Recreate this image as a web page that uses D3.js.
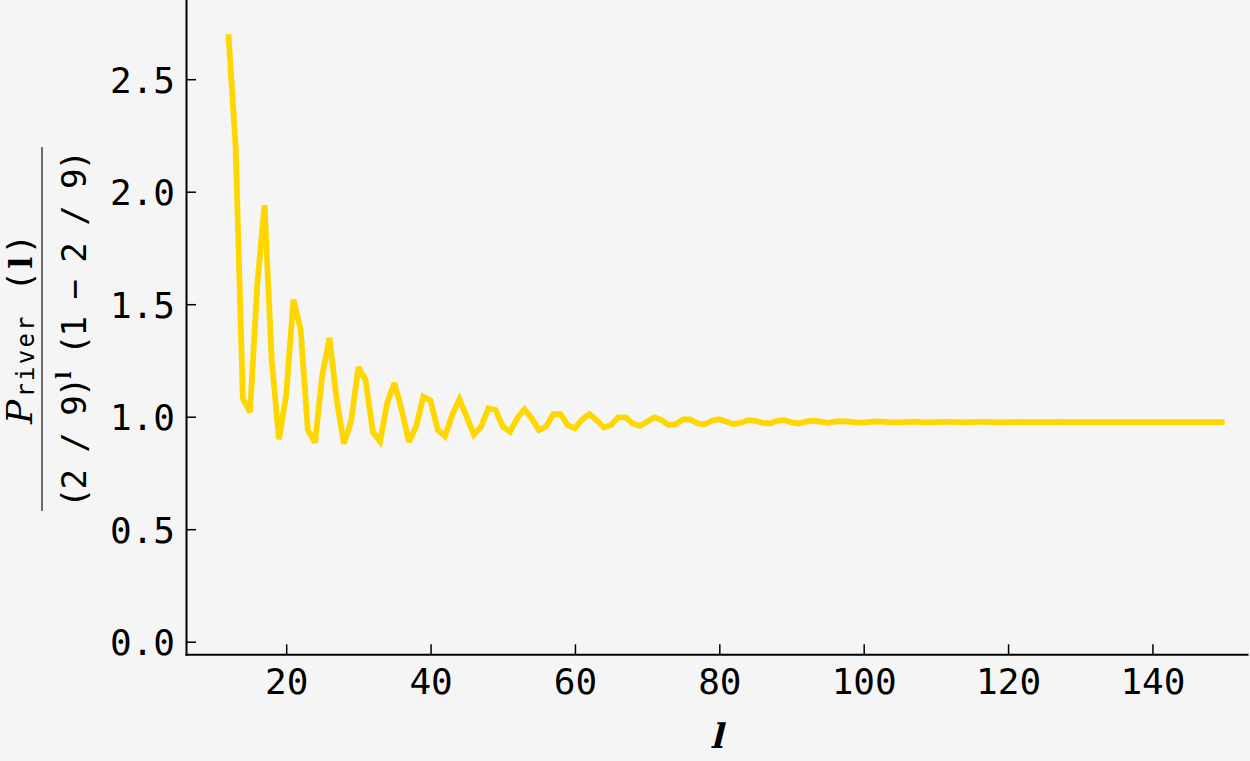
<!DOCTYPE html>
<html>
<head>
<meta charset="utf-8">
<script src="https://cdn.jsdelivr.net/npm/d3@7"></script>
<style>
  html, body { margin: 0; padding: 0; background: #f5f5f5; }
  svg { display: block; }
</style>
</head>
<body>
<svg id="chart" width="1250" height="761"></svg>
<script>
// ---- data ----
const lStart = 12;
const ratio = [
  2.70, 2.20, 1.08, 1.02, 1.59, 1.94, 1.25, 0.90, 1.095, 1.52,
  1.39, 0.94, 0.885, 1.185, 1.35, 1.074, 0.88, 0.98, 1.22, 1.163,
  0.932, 0.89, 1.062, 1.15, 1.03, 0.888, 0.956, 1.089, 1.071, 0.941,
  0.913, 1.008, 1.077, 1.0, 0.92, 0.956, 1.037, 1.03, 0.956, 0.933,
  0.993, 1.033, 0.993, 0.941, 0.956, 1.011, 1.011, 0.963, 0.948, 0.988,
  1.011, 0.985, 0.952, 0.963, 0.997, 0.997, 0.970, 0.959, 0.978, 0.997,
  0.985, 0.963, 0.967, 0.988, 0.988, 0.970, 0.966, 0.982, 0.989, 0.978,
  0.967, 0.973, 0.985, 0.982, 0.973, 0.970, 0.982, 0.985, 0.975, 0.970,
  0.978, 0.982, 0.978, 0.973, 0.978, 0.980, 0.978, 0.975, 0.974, 0.977,
  0.979, 0.977, 0.975, 0.975, 0.977, 0.978, 0.976, 0.975, 0.976, 0.977,
  0.977, 0.976, 0.975, 0.976, 0.977, 0.977, 0.976, 0.975, 0.976, 0.976,
  0.977, 0.976, 0.976, 0.976, 0.976, 0.977, 0.976, 0.976, 0.976, 0.976,
  0.976, 0.976, 0.976, 0.976, 0.976, 0.976, 0.976, 0.976, 0.976, 0.976,
  0.976, 0.976, 0.976, 0.976, 0.976, 0.976, 0.976, 0.976, 0.976
];
const xMajorTicks = [20, 40, 60, 80, 100, 120, 140];
const xMinorTicks = [10, 15, 25, 30, 35, 45, 50, 55, 65, 70, 75, 85, 90, 95, 105, 110, 115, 125, 130, 135, 145, 150];
const yMajorTicks = [0.0, 0.5, 1.0, 1.5, 2.0, 2.5];
const yMinorTicks = [0.1, 0.2, 0.3, 0.4, 0.6, 0.7, 0.8, 0.9, 1.1, 1.2, 1.3, 1.4, 1.6, 1.7, 1.8, 1.9, 2.1, 2.2, 2.3, 2.4, 2.6, 2.7, 2.8];

const points = ratio.map((v, i) => ({ l: lStart + i, v: v }));

// ---- layout ----
const svg = d3.select("#chart");
svg.append("rect").attr("width", 1250).attr("height", 761).attr("fill", "#f5f5f5");

const x = d3.scaleLinear().domain([6.12, 153.1]).range([186, 1247]);
const y = d3.scaleLinear().domain([-0.056, 2.852]).range([654.3, 0]);

const monoFont = "'DejaVu Sans Mono', monospace";
const serifFont = "'DejaVu Serif', serif";

// line
const line = d3.line().x(d => x(d.l)).y(d => y(d.v));
svg.append("path")
  .datum(points)
  .attr("d", line)
  .attr("fill", "none")
  .attr("stroke", "#FFD700")
  .attr("stroke-width", 5.8)
  .attr("stroke-linejoin", "miter")
  .attr("stroke-miterlimit", 3);

// x axis
const gx = svg.append("g").attr("transform", `translate(0,${y.range()[0]})`);
gx.call(d3.axisBottom(x).tickValues(xMinorTicks).tickSize(-5).tickSizeOuter(0).tickFormat(""));
gx.call(d3.axisBottom(x).tickValues(xMajorTicks).tickSize(-10).tickSizeOuter(0).tickPadding(14).tickFormat(d3.format("d")));
gx.selectAll(".domain").attr("stroke", "#000").attr("stroke-width", 2).attr("stroke-linecap", "square");
gx.selectAll(".tick line").attr("stroke", "#000").attr("stroke-width", 1.5);
gx.selectAll(".tick text").attr("font-family", monoFont).attr("font-size", 36).attr("fill", "#000");

// y axis
const gy = svg.append("g").attr("transform", `translate(${x.range()[0]},0)`);
gy.call(d3.axisLeft(y).tickValues(yMinorTicks).tickSize(-6).tickSizeOuter(0).tickFormat(""));
gy.call(d3.axisLeft(y).tickValues(yMajorTicks).tickSize(-10).tickSizeOuter(0).tickPadding(11).tickFormat(d3.format(".1f")));
gy.selectAll(".domain").attr("stroke", "#000").attr("stroke-width", 2).attr("stroke-linecap", "square");
gy.selectAll(".tick line").attr("stroke", "#000").attr("stroke-width", 1.5);
gy.selectAll(".tick text").attr("font-family", monoFont).attr("font-size", 36).attr("fill", "#000").attr("dy", "0.36em");

// x label (upright slab-serif glyph, slanted)
svg.append("text")
  .attr("transform", `translate(${(x.range()[0] + x.range()[1]) / 2},748) skewX(-14)`)
  .attr("text-anchor", "middle")
  .attr("font-family", serifFont)
  .attr("font-weight", "bold")
  .attr("font-size", 34)
  .attr("fill", "#000")
  .text("l");

// y label (fraction), rotated
const cy = 329;
const gl = svg.append("g");
gl.append("line")
  .attr("x1", 42).attr("x2", 42)
  .attr("y1", 147).attr("y2", 511)
  .attr("stroke", "#222").attr("stroke-width", 1.3);

// numerator
const num = gl.append("text")
  .attr("transform", `translate(32,${cy}) rotate(-90)`)
  .attr("text-anchor", "middle")
  .attr("font-family", monoFont)
  .attr("font-size", 34)
  .attr("fill", "#000")
  .attr("textLength", 190)
  .attr("lengthAdjust", "spacing");
num.append("tspan").attr("font-family", serifFont).attr("font-style", "italic").attr("font-size", 36).text("P");
num.append("tspan").attr("font-size", 24).attr("dy", 2).text("river");
num.append("tspan").attr("dy", -2).text(" (");
num.append("tspan").attr("font-family", serifFont).attr("font-weight", "bold").attr("font-size", 32).text("l");
num.append("tspan").text(")");

// denominator
const den = gl.append("text")
  .attr("transform", `translate(86,${cy}) rotate(-90)`)
  .attr("text-anchor", "middle")
  .attr("font-family", monoFont)
  .attr("font-size", 34)
  .attr("fill", "#000")
  .attr("textLength", 358)
  .attr("lengthAdjust", "spacing");
den.append("tspan").text("(2 / 9)");
den.append("tspan").attr("font-family", serifFont).attr("font-weight", "bold").attr("font-size", 20).attr("dy", -15).text("l");
den.append("tspan").attr("dy", 15).text(" (1 \u2212 2 / 9)");
</script>
</body>
</html>
